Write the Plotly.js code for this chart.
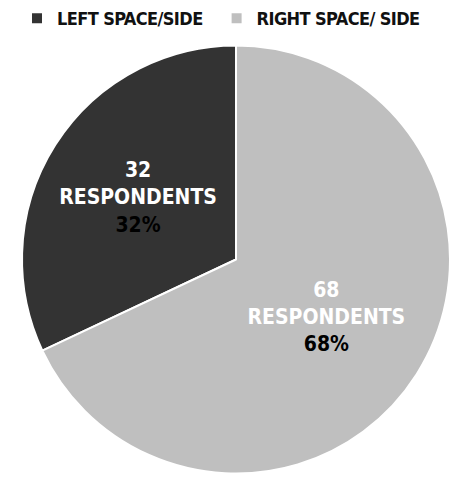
<!DOCTYPE html>
<html>
<head>
<meta charset="utf-8">
<script src="https://cdn.plot.ly/plotly-3.0.1.min.js"></script>
<style>
html,body{margin:0;padding:0;background:#fff;}
#chart{width:452px;height:482px;}
#chart .legendtext{letter-spacing:-0.6px;}
</style>
</head>
<body>
<div id="chart"></div>
<script>
const categories = ["LEFT SPACE/SIDE", "RIGHT SPACE/ SIDE"];
const respondents = [32, 68];
const sliceColors = ["#333333", "#bfbfbf"];

const total = respondents.reduce((a, b) => a + b, 0);
const fontFam = "DejaVu Sans Condensed, sans-serif";

const trace = {
  type: "pie",
  labels: categories,
  values: respondents,
  sort: false,
  direction: "clockwise",
  rotation: -360 * respondents[0] / total,
  marker: { colors: sliceColors, line: { color: "#ffffff", width: 2 } },
  texttemplate: "%{value}<br>RESPONDENTS<br><span style='color:#000000'>%{percent:.0%}</span>",
  textposition: "inside",
  insidetextorientation: "horizontal",
  textfont: { family: fontFam, size: 21, color: "#ffffff", weight: 700 },
  hoverinfo: "none",
  domain: { x: [22/452, 450/452], y: [7/482, 438/482] }
};

const layout = {
  width: 452,
  height: 482,
  margin: { l: 0, r: 0, t: 0, b: 0 },
  paper_bgcolor: "#ffffff",
  showlegend: true,
  legend: {
    orientation: "h",
    x: 0.5, xanchor: "center",
    y: 1.0, yanchor: "top",
    font: { family: fontFam, size: 18, color: "#111111", weight: 700 },
    itemwidth: 30
  }
};

Plotly.newPlot("chart", [trace], layout, { displayModeBar: false, staticPlot: true });
</script>
</body>
</html>
